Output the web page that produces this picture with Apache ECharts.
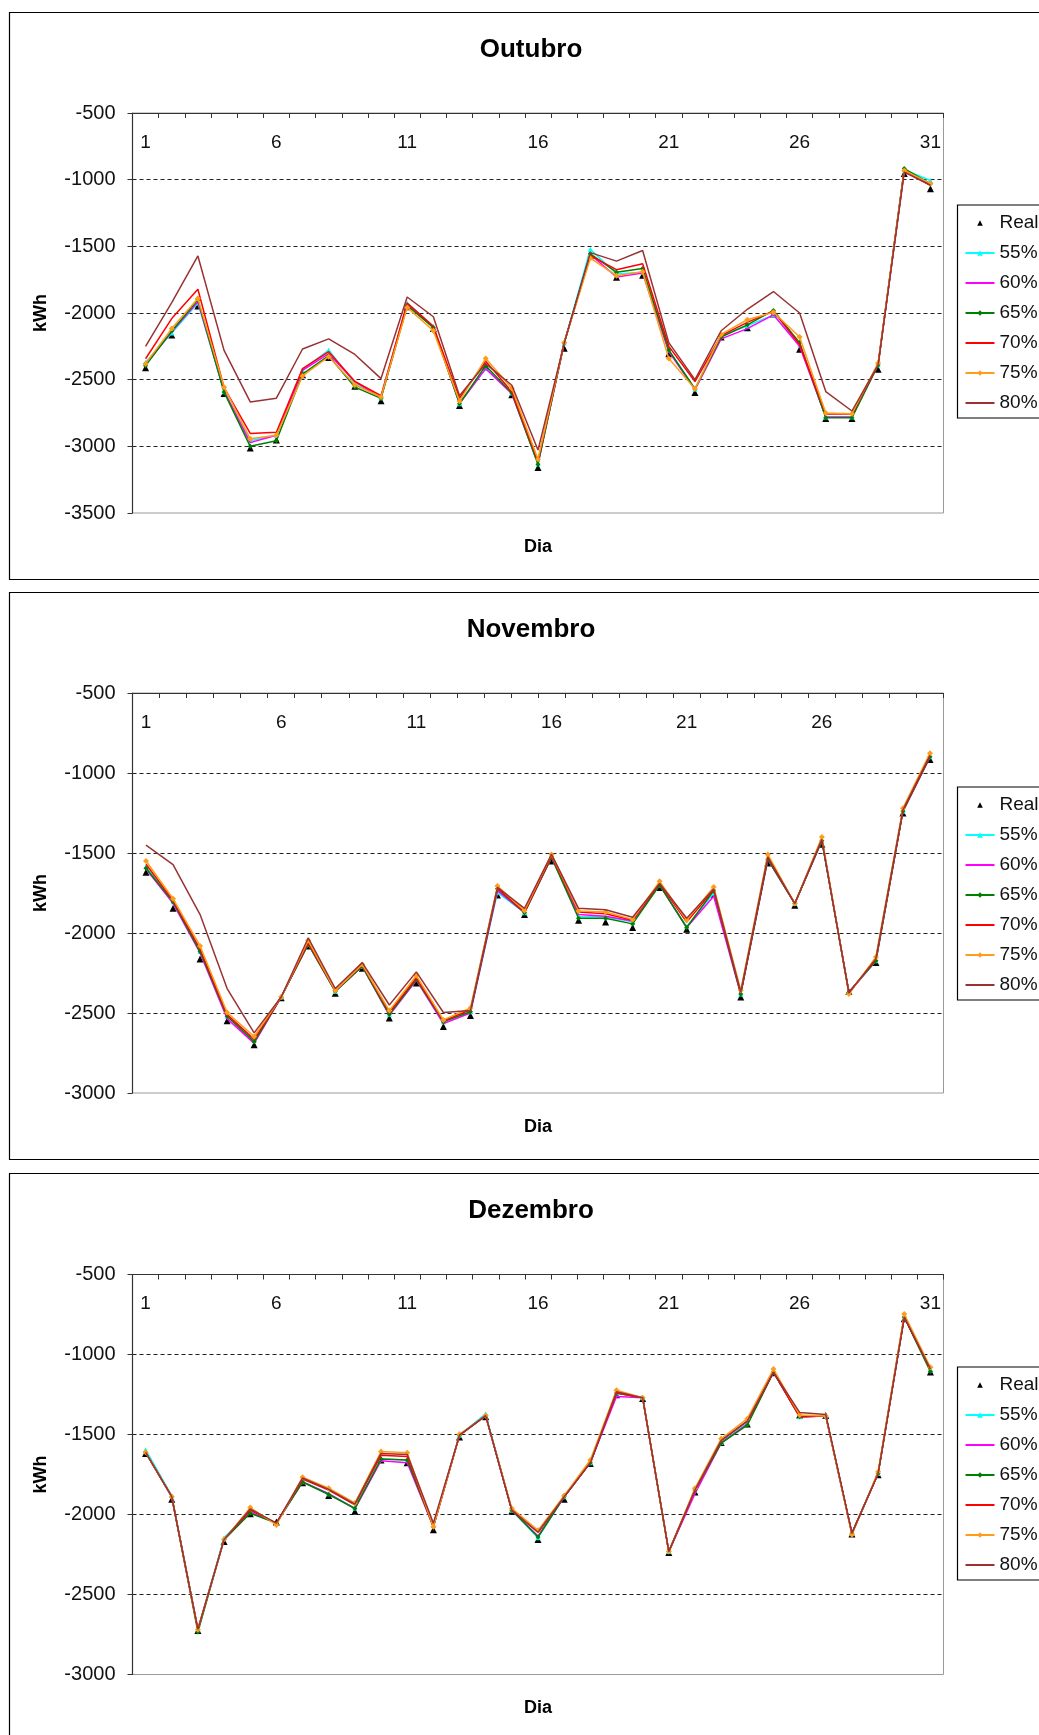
<!DOCTYPE html>
<html>
<head>
<meta charset="utf-8">
<script src="https://cdn.jsdelivr.net/npm/echarts@6/dist/echarts.min.js"></script>
<style>
  html, body { margin: 0; padding: 0; background: #ffffff; }
  #chart { width: 1039px; height: 1735px; }
</style>
</head>
<body>
<div id="chart"></div>
<script>
// Daily energy (kWh) – measured ("Real") and simulated scenarios 55%..80%
const seriesNames = ['Real', '55%', '60%', '65%', '70%', '75%', '80%'];

const diasOutubro = ['1','2','3','4','5','6','7','8','9','10','11','12','13','14','15','16','17','18','19','20','21','22','23','24','25','26','27','28','29','30','31'];
const realOutubro = [-2410,-2165,-1947,-2603,-3012,-2952,-2464,-2333,-2550,-2658,-1953,-2117,-2694,-2397,-2614,-3158,-2264,-1569,-1731,-1717,-2306,-2597,-2180,-2111,-2008,-2272,-2792,-2792,-2422,-953,-1069];
const p55Outubro  = [-2370,-2150,-1925,-2590,-2958,-2917,-2425,-2278,-2528,-2635,-1925,-2100,-2680,-2417,-2600,-3130,-2225,-1522,-1708,-1694,-2278,-2570,-2167,-2097,-2014,-2236,-2780,-2780,-2390,-925,-1006];
const p60Outubro  = [-2385,-2140,-1915,-2585,-2972,-2917,-2430,-2305,-2514,-2635,-1935,-2105,-2680,-2417,-2605,-3130,-2225,-1560,-1730,-1700,-2290,-2575,-2194,-2117,-2014,-2250,-2780,-2780,-2390,-935,-1040];
const p65Outubro  = [-2395,-2135,-1900,-2593,-3000,-2958,-2458,-2320,-2556,-2640,-1944,-2110,-2680,-2395,-2600,-3135,-2225,-1556,-1694,-1667,-2278,-2570,-2180,-2089,-1981,-2222,-2785,-2785,-2390,-917,-1030];
const p70Outubro  = [-2343,-2042,-1822,-2560,-2903,-2894,-2417,-2290,-2514,-2620,-1925,-2100,-2639,-2361,-2590,-3110,-2225,-1570,-1675,-1631,-2250,-2514,-2170,-2070,-1986,-2236,-2758,-2758,-2385,-931,-1042];
const p75Outubro  = [-2380,-2117,-1892,-2556,-2944,-2917,-2472,-2328,-2540,-2630,-1958,-2133,-2661,-2342,-2564,-3097,-2222,-1589,-1720,-1690,-2342,-2569,-2161,-2050,-1994,-2180,-2750,-2755,-2375,-931,-1028];
const p80Outubro  = [-2250,-1922,-1572,-2280,-2667,-2639,-2270,-2194,-2311,-2492,-1880,-2028,-2620,-2380,-2542,-3028,-2230,-1547,-1611,-1531,-2222,-2500,-2133,-1972,-1839,-2000,-2589,-2735,-2389,-944,-1042];

const diasNovembro = ['1','2','3','4','5','6','7','8','9','10','11','12','13','14','15','16','17','18','19','20','21','22','23','24','25','26','27','28','29','30'];
const realNovembro = [-1620,-1846,-2162,-2548,-2698,-2404,-2081,-2377,-2220,-2531,-2312,-2584,-2515,-1763,-1885,-1550,-1920,-1931,-1966,-1716,-1977,-1758,-2400,-1562,-1827,-1446,-2365,-2185,-1250,-916];
const p55Novembro  = [-1585,-1804,-2116,-2520,-2670,-2400,-2070,-2365,-2208,-2508,-2289,-2554,-2492,-1746,-1873,-1527,-1897,-1900,-1930,-1700,-1960,-1750,-2381,-1539,-1816,-1423,-2370,-2174,-1239,-899];
const p60Novembro  = [-1600,-1815,-2125,-2535,-2690,-2400,-2070,-2365,-2208,-2515,-2295,-2566,-2500,-1735,-1873,-1527,-1885,-1895,-1925,-1700,-1966,-1770,-2381,-1539,-1816,-1423,-2370,-2174,-1239,-899];
const p65Novembro  = [-1595,-1804,-2116,-2520,-2680,-2400,-2070,-2365,-2208,-2508,-2289,-2554,-2492,-1723,-1873,-1527,-1908,-1908,-1943,-1700,-1966,-1735,-2381,-1539,-1816,-1423,-2370,-2174,-1239,-899];
const p70Novembro  = [-1570,-1795,-2100,-2510,-2665,-2400,-2060,-2360,-2200,-2495,-2280,-2548,-2480,-1720,-1870,-1520,-1869,-1880,-1920,-1690,-1931,-1730,-2375,-1530,-1816,-1415,-2372,-2165,-1235,-895];
const p75Novembro  = [-1550,-1786,-2081,-2497,-2647,-2400,-2047,-2360,-2197,-2485,-2266,-2543,-2469,-1707,-1860,-1509,-1862,-1869,-1915,-1677,-1920,-1712,-2358,-1509,-1816,-1400,-2381,-2150,-1220,-876];
const p80Novembro  = [-1451,-1573,-1885,-2347,-2624,-2400,-2031,-2347,-2185,-2450,-2243,-2497,-2485,-1715,-1846,-1509,-1846,-1855,-1901,-1690,-1908,-1725,-2370,-1525,-1816,-1415,-2375,-2160,-1230,-890];

const diasDezembro = ['1','2','3','4','5','6','7','8','9','10','11','12','13','14','15','16','17','18','19','20','21','22','23','24','25','26','27','28','29','30','31'];
const realDezembro = [-1618,-1905,-2725,-2168,-1996,-2047,-1802,-1882,-1980,-1660,-1676,-2095,-1515,-1389,-1980,-2157,-1905,-1682,-1252,-1275,-2237,-1859,-1550,-1435,-1114,-1378,-1382,-2122,-1751,-777,-1110];
const p55Dezembro  = [-1595,-1882,-2718,-2145,-1980,-2054,-1795,-1870,-1960,-1653,-1660,-2065,-1504,-1371,-1973,-2145,-1889,-1676,-1240,-1270,-2232,-1847,-1550,-1430,-1110,-1389,-1384,-2118,-1744,-766,-1091];
const p60Dezembro  = [-1611,-1889,-2718,-2157,-1985,-2054,-1797,-1870,-1965,-1664,-1676,-2077,-1504,-1382,-1973,-2135,-1889,-1676,-1263,-1270,-2232,-1870,-1554,-1435,-1110,-1389,-1384,-2118,-1744,-766,-1091];
const p65Dezembro  = [-1611,-1889,-2734,-2157,-1992,-2054,-1797,-1875,-1962,-1653,-1660,-2077,-1504,-1382,-1973,-2141,-1889,-1676,-1240,-1270,-2232,-1847,-1554,-1442,-1110,-1389,-1384,-2118,-1744,-766,-1107];
const p70Dezembro  = [-1611,-1889,-2718,-2157,-1973,-2054,-1779,-1847,-1939,-1630,-1637,-2077,-1504,-1382,-1973,-2111,-1889,-1676,-1240,-1270,-2232,-1847,-1538,-1417,-1110,-1389,-1384,-2118,-1744,-766,-1091];
const p75Dezembro  = [-1611,-1889,-2718,-2157,-1957,-2065,-1767,-1836,-1928,-1607,-1614,-2077,-1499,-1382,-1962,-2099,-1882,-1659,-1224,-1270,-2232,-1836,-1527,-1401,-1091,-1378,-1384,-2127,-1733,-747,-1080];
const p80Dezembro  = [-1611,-1889,-2718,-2157,-1965,-2054,-1772,-1843,-1935,-1618,-1625,-2054,-1504,-1382,-1973,-2111,-1889,-1676,-1233,-1270,-2232,-1847,-1538,-1417,-1110,-1362,-1375,-2118,-1744,-766,-1091];

// y-axis ticks per panel
const yTicksOutubro  = { min: -3500, max: -500, interval: 500 };
const yTicksNovembro = { min: -3000, max: -500, interval: 500 };
const yTicksDezembro = { min: -3000, max: -500, interval: 500 };

const FONT = '"Liberation Sans", Arial, sans-serif';

// Panel layout (pixel frame of each chart block)
const panels = [
  { title: 'Outubro',  dias: diasOutubro,  ticks: yTicksOutubro,  frameTop: 12.5,   gridTop: 113,   legendTop: 205,
    values: [realOutubro, p55Outubro, p60Outubro, p65Outubro, p70Outubro, p75Outubro, p80Outubro] },
  { title: 'Novembro', dias: diasNovembro, ticks: yTicksNovembro, frameTop: 592.5,  gridTop: 693,   legendTop: 787,
    values: [realNovembro, p55Novembro, p60Novembro, p65Novembro, p70Novembro, p75Novembro, p80Novembro] },
  { title: 'Dezembro', dias: diasDezembro, ticks: yTicksDezembro, frameTop: 1173.5, gridTop: 1274.5, legendTop: 1367,
    values: [realDezembro, p55Dezembro, p60Dezembro, p65Dezembro, p70Dezembro, p75Dezembro, p80Dezembro] }
];

// Visual style of each series
const styles = [
  { color: '#000000', symbol: 'triangle', size: 7, line: 0 },
  { color: '#00ffff', symbol: 'triangle', size: 5, line: 1.5 },
  { color: '#ff00ff', symbol: 'none',     size: 0, line: 1.5 },
  { color: '#008000', symbol: 'diamond',  size: 5, line: 1.5 },
  { color: '#ff0000', symbol: 'none',     size: 0, line: 1.5 },
  { color: '#ff9c1a', symbol: 'diamond',  size: 6, line: 1.5 },
  { color: '#993333', symbol: 'none',     size: 0, line: 1.5 }
];

const GRID_LEFT = 132.5, GRID_WIDTH = 811, GRID_HEIGHT = 400;

const option = {
  animation: false,
  backgroundColor: '#ffffff',
  title: [],
  legend: [],
  grid: [],
  xAxis: [],
  yAxis: [],
  series: [],
  graphic: []
};

// Legend entries: lines without markers show only their line
const legendItems = seriesNames.map((name, k) =>
  styles[k].symbol === 'none' ? { name: name, itemStyle: { opacity: 0 } } : { name: name }
);

panels.forEach((p, i) => {
  option.graphic.push({
    type: 'rect',
    shape: { x: 9.5, y: p.frameTop, width: 1100, height: 567 },
    style: { fill: 'none', stroke: '#000000', lineWidth: 1.2 },
    z: 0
  });

  option.title.push({
    text: p.title,
    left: 531, top: p.frameTop + 24, textAlign: 'center', padding: 0,
    textStyle: { fontFamily: FONT, fontSize: 26, fontWeight: 'bold', color: '#000' }
  });
  option.title.push({
    text: 'Dia',
    left: GRID_LEFT + GRID_WIDTH / 2, top: p.gridTop + GRID_HEIGHT + 25, textAlign: 'center', padding: 0,
    textStyle: { fontFamily: FONT, fontSize: 18, fontWeight: 'bold', color: '#000' }
  });

  option.grid.push({
    left: GRID_LEFT, top: p.gridTop, width: GRID_WIDTH, height: GRID_HEIGHT,
    show: true, borderColor: '#9a9a9a', borderWidth: 1, backgroundColor: 'transparent'
  });

  option.xAxis.push({
    type: 'category', gridIndex: i, position: 'top', data: p.dias, boundaryGap: true,
    axisLine: { show: true, lineStyle: { color: '#333', width: 1.2 } },
    axisTick: { show: true, inside: true, length: 5, interval: 0, lineStyle: { color: '#333' } },
    axisLabel: { inside: true, interval: 4, margin: 20, fontFamily: FONT, fontSize: 19, color: '#111' },
    splitLine: { show: false }
  });

  option.yAxis.push({
    type: 'value', gridIndex: i, min: p.ticks.min, max: p.ticks.max, interval: p.ticks.interval,
    name: 'kWh', nameLocation: 'middle', nameGap: 82,
    nameTextStyle: { fontFamily: FONT, fontSize: 18, fontWeight: 'bold', color: '#000' },
    axisLine: { show: true, lineStyle: { color: '#333', width: 1.2 } },
    axisTick: { show: true, length: 5, lineStyle: { color: '#333' } },
    axisLabel: { margin: 17, fontFamily: FONT, fontSize: 20, color: '#111',
                 formatter: (v) => String(v) },
    splitLine: { show: true, showMinLine: false, showMaxLine: false,
                 lineStyle: { color: '#222', width: 1.2, type: [4, 3] } }
  });

  option.legend.push({
    orient: 'vertical', left: 957.5, top: p.legendTop,
    data: legendItems,
    itemWidth: 29, itemHeight: 7, itemGap: 10,
    padding: [8, 12, 5, 7],
    borderColor: '#000', borderWidth: 1.2,
    selectedMode: false,
    textStyle: { fontFamily: FONT, fontSize: 19, color: '#111', lineHeight: 20 }
  });

  seriesNames.forEach((name, k) => {
    const s = styles[k];
    option.series.push({
      type: 'line', name: name, xAxisIndex: i, yAxisIndex: i,
      data: p.values[k],
      symbol: s.symbol, symbolSize: s.size, showSymbol: s.symbol !== 'none', showAllSymbol: true,
      itemStyle: { color: s.color },
      lineStyle: { color: s.color, width: s.line, opacity: s.line ? 1 : 0 },
      emphasis: { disabled: true },
      z: 2 + k
    });
  });
});

const chart = echarts.init(document.getElementById('chart'), null, { renderer: 'canvas' });
chart.setOption(option);
</script>
</body>
</html>
